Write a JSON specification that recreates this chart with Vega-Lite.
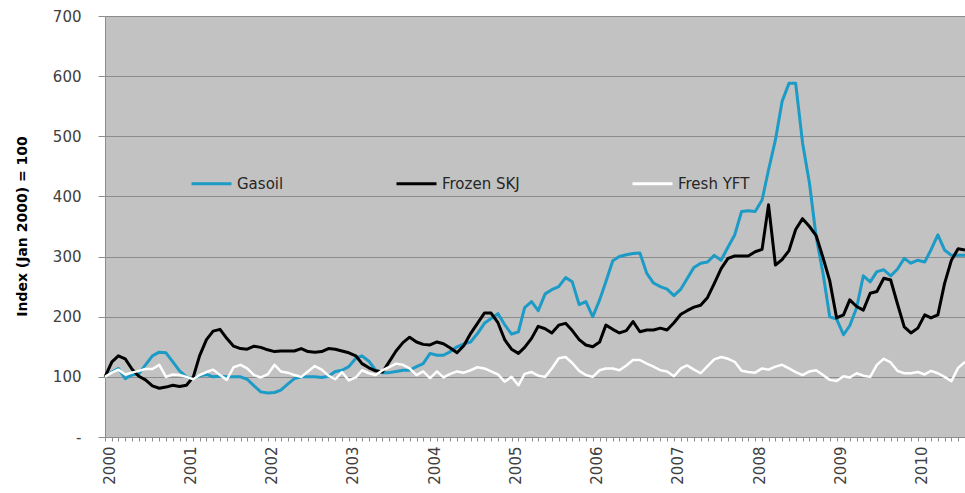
{
"$schema": "https://vega.github.io/schema/vega-lite/v6.json",
"width": 860, "height": 421,
"autosize": {"type": "none"},
"padding": {"left": 105, "top": 16, "right": 0, "bottom": 56},
"background": "white",
"config": {"view": {"fill": "#C2C2C2", "stroke": null}, "font": "DejaVu Sans"},
"data": {"values": [
{"date":"2000-01-01","Gasoil":100,"Frozen SKJ":100,"Fresh YFT":100},
{"date":"2000-02-01","Gasoil":108,"Frozen SKJ":125,"Fresh YFT":107},
{"date":"2000-03-01","Gasoil":114,"Frozen SKJ":135,"Fresh YFT":112},
{"date":"2000-04-01","Gasoil":97,"Frozen SKJ":130,"Fresh YFT":104},
{"date":"2000-05-01","Gasoil":103,"Frozen SKJ":113,"Fresh YFT":107},
{"date":"2000-06-01","Gasoil":105,"Frozen SKJ":101,"Fresh YFT":110},
{"date":"2000-07-01","Gasoil":120,"Frozen SKJ":95,"Fresh YFT":113},
{"date":"2000-08-01","Gasoil":135,"Frozen SKJ":85,"Fresh YFT":113},
{"date":"2000-09-01","Gasoil":141,"Frozen SKJ":81,"Fresh YFT":120},
{"date":"2000-10-01","Gasoil":140,"Frozen SKJ":83,"Fresh YFT":100},
{"date":"2000-11-01","Gasoil":125,"Frozen SKJ":86,"Fresh YFT":104},
{"date":"2000-12-01","Gasoil":110,"Frozen SKJ":84,"Fresh YFT":103},
{"date":"2001-01-01","Gasoil":100,"Frozen SKJ":86,"Fresh YFT":100},
{"date":"2001-02-01","Gasoil":97,"Frozen SKJ":100,"Fresh YFT":96},
{"date":"2001-03-01","Gasoil":102,"Frozen SKJ":135,"Fresh YFT":103},
{"date":"2001-04-01","Gasoil":104,"Frozen SKJ":162,"Fresh YFT":108},
{"date":"2001-05-01","Gasoil":100,"Frozen SKJ":176,"Fresh YFT":112},
{"date":"2001-06-01","Gasoil":101,"Frozen SKJ":179,"Fresh YFT":103},
{"date":"2001-07-01","Gasoil":100,"Frozen SKJ":164,"Fresh YFT":95},
{"date":"2001-08-01","Gasoil":100,"Frozen SKJ":151,"Fresh YFT":116},
{"date":"2001-09-01","Gasoil":100,"Frozen SKJ":147,"Fresh YFT":120},
{"date":"2001-10-01","Gasoil":96,"Frozen SKJ":146,"Fresh YFT":114},
{"date":"2001-11-01","Gasoil":85,"Frozen SKJ":151,"Fresh YFT":103},
{"date":"2001-12-01","Gasoil":75,"Frozen SKJ":149,"Fresh YFT":99},
{"date":"2002-01-01","Gasoil":73,"Frozen SKJ":145,"Fresh YFT":104},
{"date":"2002-02-01","Gasoil":74,"Frozen SKJ":142,"Fresh YFT":120},
{"date":"2002-03-01","Gasoil":78,"Frozen SKJ":143,"Fresh YFT":109},
{"date":"2002-04-01","Gasoil":88,"Frozen SKJ":143,"Fresh YFT":107},
{"date":"2002-05-01","Gasoil":97,"Frozen SKJ":143,"Fresh YFT":103},
{"date":"2002-06-01","Gasoil":100,"Frozen SKJ":147,"Fresh YFT":100},
{"date":"2002-07-01","Gasoil":100,"Frozen SKJ":142,"Fresh YFT":109},
{"date":"2002-08-01","Gasoil":100,"Frozen SKJ":141,"Fresh YFT":118},
{"date":"2002-09-01","Gasoil":99,"Frozen SKJ":142,"Fresh YFT":112},
{"date":"2002-10-01","Gasoil":101,"Frozen SKJ":147,"Fresh YFT":102},
{"date":"2002-11-01","Gasoil":109,"Frozen SKJ":146,"Fresh YFT":96},
{"date":"2002-12-01","Gasoil":111,"Frozen SKJ":143,"Fresh YFT":108},
{"date":"2003-01-01","Gasoil":117,"Frozen SKJ":140,"Fresh YFT":94},
{"date":"2003-02-01","Gasoil":131,"Frozen SKJ":135,"Fresh YFT":99},
{"date":"2003-03-01","Gasoil":135,"Frozen SKJ":122,"Fresh YFT":111},
{"date":"2003-04-01","Gasoil":126,"Frozen SKJ":115,"Fresh YFT":106},
{"date":"2003-05-01","Gasoil":111,"Frozen SKJ":110,"Fresh YFT":103},
{"date":"2003-06-01","Gasoil":107,"Frozen SKJ":108,"Fresh YFT":111},
{"date":"2003-07-01","Gasoil":107,"Frozen SKJ":125,"Fresh YFT":116},
{"date":"2003-08-01","Gasoil":109,"Frozen SKJ":143,"Fresh YFT":122},
{"date":"2003-09-01","Gasoil":111,"Frozen SKJ":157,"Fresh YFT":120},
{"date":"2003-10-01","Gasoil":111,"Frozen SKJ":166,"Fresh YFT":114},
{"date":"2003-11-01","Gasoil":117,"Frozen SKJ":158,"Fresh YFT":103},
{"date":"2003-12-01","Gasoil":122,"Frozen SKJ":154,"Fresh YFT":109},
{"date":"2004-01-01","Gasoil":139,"Frozen SKJ":153,"Fresh YFT":98},
{"date":"2004-02-01","Gasoil":136,"Frozen SKJ":158,"Fresh YFT":109},
{"date":"2004-03-01","Gasoil":136,"Frozen SKJ":155,"Fresh YFT":99},
{"date":"2004-04-01","Gasoil":142,"Frozen SKJ":148,"Fresh YFT":105},
{"date":"2004-05-01","Gasoil":150,"Frozen SKJ":140,"Fresh YFT":109},
{"date":"2004-06-01","Gasoil":155,"Frozen SKJ":152,"Fresh YFT":107},
{"date":"2004-07-01","Gasoil":158,"Frozen SKJ":172,"Fresh YFT":111},
{"date":"2004-08-01","Gasoil":172,"Frozen SKJ":189,"Fresh YFT":116},
{"date":"2004-09-01","Gasoil":189,"Frozen SKJ":206,"Fresh YFT":114},
{"date":"2004-10-01","Gasoil":197,"Frozen SKJ":206,"Fresh YFT":109},
{"date":"2004-11-01","Gasoil":205,"Frozen SKJ":190,"Fresh YFT":104},
{"date":"2004-12-01","Gasoil":187,"Frozen SKJ":162,"Fresh YFT":92},
{"date":"2005-01-01","Gasoil":171,"Frozen SKJ":146,"Fresh YFT":100},
{"date":"2005-02-01","Gasoil":175,"Frozen SKJ":139,"Fresh YFT":86},
{"date":"2005-03-01","Gasoil":215,"Frozen SKJ":149,"Fresh YFT":105},
{"date":"2005-04-01","Gasoil":225,"Frozen SKJ":164,"Fresh YFT":108},
{"date":"2005-05-01","Gasoil":210,"Frozen SKJ":184,"Fresh YFT":102},
{"date":"2005-06-01","Gasoil":238,"Frozen SKJ":180,"Fresh YFT":100},
{"date":"2005-07-01","Gasoil":245,"Frozen SKJ":173,"Fresh YFT":114},
{"date":"2005-08-01","Gasoil":250,"Frozen SKJ":186,"Fresh YFT":131},
{"date":"2005-09-01","Gasoil":265,"Frozen SKJ":189,"Fresh YFT":133},
{"date":"2005-10-01","Gasoil":258,"Frozen SKJ":177,"Fresh YFT":123},
{"date":"2005-11-01","Gasoil":220,"Frozen SKJ":162,"Fresh YFT":110},
{"date":"2005-12-01","Gasoil":225,"Frozen SKJ":153,"Fresh YFT":103},
{"date":"2006-01-01","Gasoil":200,"Frozen SKJ":150,"Fresh YFT":100},
{"date":"2006-02-01","Gasoil":228,"Frozen SKJ":158,"Fresh YFT":111},
{"date":"2006-03-01","Gasoil":258,"Frozen SKJ":186,"Fresh YFT":114},
{"date":"2006-04-01","Gasoil":293,"Frozen SKJ":179,"Fresh YFT":114},
{"date":"2006-05-01","Gasoil":300,"Frozen SKJ":173,"Fresh YFT":111},
{"date":"2006-06-01","Gasoil":303,"Frozen SKJ":177,"Fresh YFT":119},
{"date":"2006-07-01","Gasoil":305,"Frozen SKJ":192,"Fresh YFT":128},
{"date":"2006-08-01","Gasoil":306,"Frozen SKJ":175,"Fresh YFT":128},
{"date":"2006-09-01","Gasoil":272,"Frozen SKJ":178,"Fresh YFT":122},
{"date":"2006-10-01","Gasoil":256,"Frozen SKJ":178,"Fresh YFT":117},
{"date":"2006-11-01","Gasoil":250,"Frozen SKJ":181,"Fresh YFT":111},
{"date":"2006-12-01","Gasoil":246,"Frozen SKJ":178,"Fresh YFT":109},
{"date":"2007-01-01","Gasoil":235,"Frozen SKJ":190,"Fresh YFT":101},
{"date":"2007-02-01","Gasoil":246,"Frozen SKJ":204,"Fresh YFT":114},
{"date":"2007-03-01","Gasoil":263,"Frozen SKJ":210,"Fresh YFT":119},
{"date":"2007-04-01","Gasoil":282,"Frozen SKJ":216,"Fresh YFT":112},
{"date":"2007-05-01","Gasoil":289,"Frozen SKJ":219,"Fresh YFT":106},
{"date":"2007-06-01","Gasoil":291,"Frozen SKJ":232,"Fresh YFT":118},
{"date":"2007-07-01","Gasoil":302,"Frozen SKJ":255,"Fresh YFT":129},
{"date":"2007-08-01","Gasoil":294,"Frozen SKJ":280,"Fresh YFT":133},
{"date":"2007-09-01","Gasoil":316,"Frozen SKJ":297,"Fresh YFT":130},
{"date":"2007-10-01","Gasoil":336,"Frozen SKJ":301,"Fresh YFT":125},
{"date":"2007-11-01","Gasoil":375,"Frozen SKJ":301,"Fresh YFT":110},
{"date":"2007-12-01","Gasoil":376,"Frozen SKJ":301,"Fresh YFT":108},
{"date":"2008-01-01","Gasoil":375,"Frozen SKJ":308,"Fresh YFT":107},
{"date":"2008-02-01","Gasoil":394,"Frozen SKJ":312,"Fresh YFT":114},
{"date":"2008-03-01","Gasoil":444,"Frozen SKJ":386,"Fresh YFT":112},
{"date":"2008-04-01","Gasoil":494,"Frozen SKJ":286,"Fresh YFT":117},
{"date":"2008-05-01","Gasoil":558,"Frozen SKJ":295,"Fresh YFT":120},
{"date":"2008-06-01","Gasoil":588,"Frozen SKJ":310,"Fresh YFT":114},
{"date":"2008-07-01","Gasoil":588,"Frozen SKJ":345,"Fresh YFT":108},
{"date":"2008-08-01","Gasoil":489,"Frozen SKJ":363,"Fresh YFT":103},
{"date":"2008-09-01","Gasoil":422,"Frozen SKJ":350,"Fresh YFT":109},
{"date":"2008-10-01","Gasoil":333,"Frozen SKJ":335,"Fresh YFT":111},
{"date":"2008-11-01","Gasoil":272,"Frozen SKJ":298,"Fresh YFT":103},
{"date":"2008-12-01","Gasoil":200,"Frozen SKJ":260,"Fresh YFT":95},
{"date":"2009-01-01","Gasoil":196,"Frozen SKJ":198,"Fresh YFT":93},
{"date":"2009-02-01","Gasoil":170,"Frozen SKJ":203,"Fresh YFT":101},
{"date":"2009-03-01","Gasoil":185,"Frozen SKJ":228,"Fresh YFT":99},
{"date":"2009-04-01","Gasoil":215,"Frozen SKJ":217,"Fresh YFT":106},
{"date":"2009-05-01","Gasoil":268,"Frozen SKJ":211,"Fresh YFT":102},
{"date":"2009-06-01","Gasoil":258,"Frozen SKJ":239,"Fresh YFT":100},
{"date":"2009-07-01","Gasoil":275,"Frozen SKJ":242,"Fresh YFT":120},
{"date":"2009-08-01","Gasoil":278,"Frozen SKJ":264,"Fresh YFT":130},
{"date":"2009-09-01","Gasoil":268,"Frozen SKJ":261,"Fresh YFT":124},
{"date":"2009-10-01","Gasoil":279,"Frozen SKJ":222,"Fresh YFT":110},
{"date":"2009-11-01","Gasoil":297,"Frozen SKJ":183,"Fresh YFT":106},
{"date":"2009-12-01","Gasoil":289,"Frozen SKJ":173,"Fresh YFT":106},
{"date":"2010-01-01","Gasoil":294,"Frozen SKJ":181,"Fresh YFT":108},
{"date":"2010-02-01","Gasoil":291,"Frozen SKJ":203,"Fresh YFT":104},
{"date":"2010-03-01","Gasoil":311,"Frozen SKJ":198,"Fresh YFT":110},
{"date":"2010-04-01","Gasoil":336,"Frozen SKJ":203,"Fresh YFT":106},
{"date":"2010-05-01","Gasoil":311,"Frozen SKJ":255,"Fresh YFT":100},
{"date":"2010-06-01","Gasoil":302,"Frozen SKJ":294,"Fresh YFT":93},
{"date":"2010-07-01","Gasoil":302,"Frozen SKJ":313,"Fresh YFT":115},
{"date":"2010-08-01","Gasoil":302,"Frozen SKJ":311,"Fresh YFT":125}
]},
"encoding": {
  "x": {"field": "date", "type": "temporal",
    "scale": {"type": "utc", "domain": [{"year": 2000, "month": 1, "date": 1, "utc": true}, {"year": 2010, "month": 8, "date": 1, "utc": true}]},
    "axis": {"title": null, "grid": false,
      "tickCount": {"interval": "month", "step": 1},
      "labelExpr": "utcmonth(datum.value) === 0 ? utcFormat(datum.value, '%Y') : ''",
      "labelAngle": 270, "labelAlign": "right", "labelBaseline": "middle",
      "labelOverlap": false, "labelBound": false, "labelFlush": false,
      "labelFontSize": 15, "labelColor": "#404040", "labelPadding": 5, "labelOffset": 4,
      "tickSize": 4, "tickColor": "#8C8C8C", "domainColor": "#8C8C8C"}}
},
"layer": [
  {"mark": {"type": "line", "strokeWidth": 3, "strokeJoin": "round"},
   "encoding": {
     "y": {"field": "Gasoil", "type": "quantitative",
       "scale": {"domain": [0, 700]},
       "axis": {"title": "Index (Jan 2000) = 100", "values": [0,100,200,300,400,500,600,700],
         "labelExpr": "datum.value === 0 ? '-' : datum.label",
         "titleFontSize": 14, "titleFontWeight": "bold", "titleColor": "#000000",
         "titleX": -76, "titleY": 210,
         "labelFontSize": 15, "labelColor": "#404040", "labelPadding": 17,
         "tickSize": 7, "tickColor": "#8C8C8C", "domainColor": "#8C8C8C",
         "grid": true, "gridColor": "#8C8C8C", "gridWidth": 1}},
     "color": {"datum": "Gasoil", "type": "nominal",
       "scale": {"domain": ["Gasoil", "Frozen SKJ", "Fresh YFT"], "range": ["#1B9BC6", "#000000", "#FFFFFF"]},
       "legend": {"orient": "none", "legendX": 85, "legendY": 146, "direction": "horizontal", "title": null,
         "symbolType": "stroke", "symbolSize": 1600, "symbolStrokeWidth": 3,
         "labelFontSize": 15, "labelColor": "#262626", "columnPadding": 106, "labelOffset": 4, "padding": 0}}}},
  {"mark": {"type": "line", "strokeWidth": 3, "strokeJoin": "round"},
   "encoding": {
     "y": {"field": "Frozen SKJ", "type": "quantitative", "title": "Index (Jan 2000) = 100"},
     "color": {"datum": "Frozen SKJ", "type": "nominal"}}},
  {"mark": {"type": "line", "strokeWidth": 2.5, "strokeJoin": "round"},
   "encoding": {
     "y": {"field": "Fresh YFT", "type": "quantitative", "title": "Index (Jan 2000) = 100"},
     "color": {"datum": "Fresh YFT", "type": "nominal"}}}
]
}
